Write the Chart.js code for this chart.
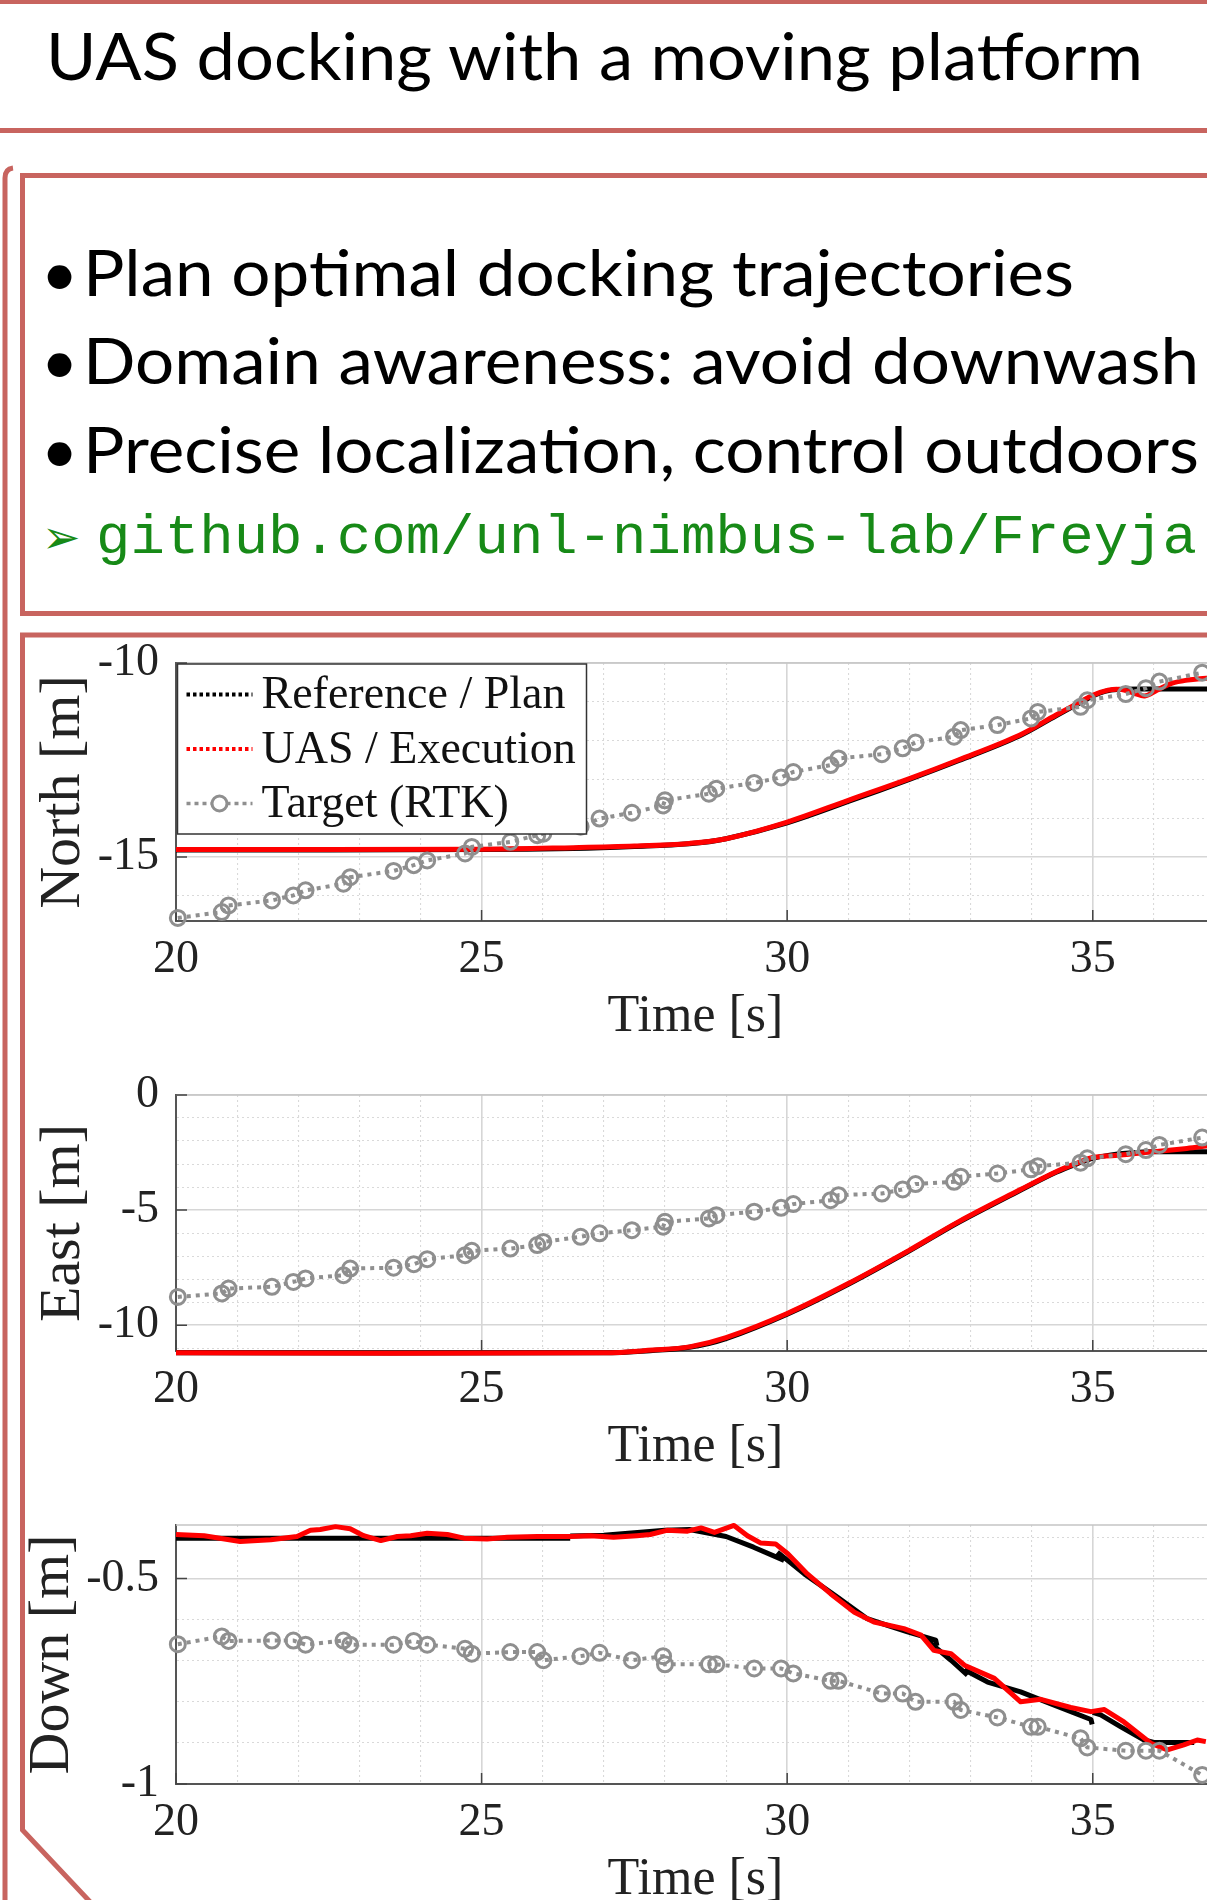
<!DOCTYPE html>
<html>
<head>
<meta charset="utf-8">
<title>UAS docking with a moving platform</title>
<script src="https://cdn.jsdelivr.net/npm/chart.js@4.4.0/dist/chart.umd.min.js"></script>
<style>
  html, body { margin: 0; padding: 0; background: #fff; overflow: hidden; }
  #page { position: relative; width: 1207px; height: 1900px; overflow: hidden; }
  #frame { position: absolute; left: 0; top: 0; }
  .plot { position: absolute; left: 0; }
</style>
</head>
<body>
<div id="page">
  <svg id="frame" width="1207" height="1900">
    <rect x="0" y="0" width="1207" height="4" fill="#c8645f"/>
    <rect x="0" y="128" width="1207" height="5" fill="#c8645f"/>
    <text x="46" y="80" font-family="Lato" font-size="65" textLength="1097" lengthAdjust="spacingAndGlyphs">UAS docking with a moving platform</text>
    <path d="M5 1900 V178 Q5 169 13 168" fill="none" stroke="#c8645f" stroke-width="5"/>
    <rect x="22.5" y="175.5" width="1300" height="438" fill="none" stroke="#c8645f" stroke-width="5"/>
    <path d="M1300 635 H22.5 V1830 L94 1906" fill="none" stroke="#c8645f" stroke-width="5"/>
    <g font-family="Lato" font-size="64" fill="#000">
      <text x="41" y="296">•</text>
      <text x="83" y="296" textLength="991" lengthAdjust="spacingAndGlyphs">Plan optimal docking trajectories</text>
      <text x="41" y="384">•</text>
      <text x="83" y="384" textLength="1116" lengthAdjust="spacingAndGlyphs">Domain awareness: avoid downwash</text>
      <text x="41" y="473">•</text>
      <text x="83" y="473" textLength="1116" lengthAdjust="spacingAndGlyphs">Precise localization, control outdoors</text>
    </g>
    <text x="42" y="553" font-family="DejaVu Sans" font-size="46" fill="#178a17">➢</text>
    <text x="96" y="553" font-family="Liberation Mono" font-size="56" fill="#178a17" textLength="1101" lengthAdjust="spacingAndGlyphs">github.com/unl-nimbus-lab/Freyja</text>
  </svg>
  <canvas id="northChart" class="plot" width="1230" height="420" style="top:640px"></canvas>
  <canvas id="eastChart" class="plot" width="1230" height="418" style="top:1072px"></canvas>
  <canvas id="downChart" class="plot" width="1230" height="421" style="top:1502px"></canvas>
</div>
<script>
// legend names and tick labels
const seriesNames = ["Reference / Plan", "UAS / Execution", "Target (RTK)"];
const timeTicks = [20, 25, 30, 35];
const northTicks = [-10, -15];
const eastTicks = [0, -5, -10];
const downTicks = [-0.5, -1];

// RTK target samples (same timestamps on all three axes)
const targetTime = [20.03, 20.75, 20.86, 21.57, 21.92, 22.12, 22.74, 22.85, 23.56, 23.89, 24.11, 24.73, 24.84, 25.47, 25.91, 26.01, 26.62, 26.93, 27.46, 27.97, 28.0, 28.72, 28.84, 29.46, 29.9, 30.1, 30.71, 30.84, 31.55, 31.89, 32.1, 32.73, 32.84, 33.44, 33.99, 34.1, 34.8, 34.91, 35.54, 35.87, 36.09, 36.79];
const northTarget = [-16.57, -16.42, -16.25, -16.12, -15.99, -15.86, -15.69, -15.52, -15.36, -15.21, -15.09, -14.91, -14.74, -14.61, -14.44, -14.40, -14.22, -14.01, -13.86, -13.67, -13.54, -13.37, -13.24, -13.09, -12.95, -12.81, -12.63, -12.46, -12.35, -12.20, -12.05, -11.90, -11.73, -11.60, -11.43, -11.26, -11.13, -10.96, -10.80, -10.65, -10.48, -10.25];
const eastTarget = [-8.77, -8.62, -8.41, -8.33, -8.12, -7.97, -7.83, -7.54, -7.50, -7.35, -7.13, -6.96, -6.77, -6.67, -6.52, -6.38, -6.16, -6.01, -5.87, -5.72, -5.51, -5.36, -5.22, -5.07, -4.90, -4.74, -4.57, -4.35, -4.28, -4.10, -3.87, -3.77, -3.55, -3.41, -3.23, -3.09, -2.94, -2.75, -2.57, -2.39, -2.17, -1.85];
const downTarget = [-0.660, -0.641, -0.652, -0.651, -0.651, -0.661, -0.651, -0.661, -0.661, -0.652, -0.661, -0.671, -0.683, -0.679, -0.679, -0.699, -0.689, -0.681, -0.699, -0.689, -0.709, -0.709, -0.709, -0.719, -0.719, -0.731, -0.749, -0.749, -0.780, -0.780, -0.800, -0.800, -0.820, -0.838, -0.861, -0.861, -0.889, -0.911, -0.919, -0.919, -0.919, -0.978];

// North
const northPlanTime = [20, 25, 26.5, 27.5, 28.4, 29.0, 30.0, 31.0, 32.0, 32.8, 33.8, 34.4, 34.8, 35.0, 35.2, 35.4, 36, 37];
const northPlan = [-14.82, -14.81, -14.78, -14.73, -14.66, -14.53, -14.12, -13.57, -13.0, -12.52, -11.88, -11.36, -11.02, -10.85, -10.73, -10.68, -10.67, -10.67];
const northUasTime = [20, 25, 26.5, 27.5, 28.4, 29.0, 30.0, 31.0, 32.0, 32.8, 33.8, 34.4, 34.8, 35.0, 35.25, 35.45, 35.68, 35.85, 36.05, 36.3, 36.55, 36.8, 37];
const northUas = [-14.81, -14.80, -14.76, -14.72, -14.65, -14.53, -14.10, -13.54, -12.98, -12.50, -11.86, -11.34, -11.0, -10.83, -10.70, -10.68, -10.78, -10.85, -10.70, -10.52, -10.44, -10.40, -10.38];

// East
const eastPlanTime = [20, 27, 27.8, 28.4, 29.0, 30.0, 31.0, 32.0, 32.8, 33.8, 34.4, 34.8, 35.0, 35.3, 35.6, 36, 37];
const eastPlan = [-11.2, -11.2, -11.1, -10.96, -10.58, -9.52, -8.22, -6.77, -5.54, -4.16, -3.36, -2.93, -2.75, -2.6, -2.52, -2.47, -2.47];
const eastUasTime = [20, 27, 27.8, 28.4, 29.0, 30.0, 31.0, 32.0, 32.8, 33.8, 34.4, 34.8, 35.0, 35.5, 36.0, 36.5, 36.85, 37];
const eastUas = [-11.2, -11.2, -11.08, -10.94, -10.54, -9.49, -8.19, -6.74, -5.51, -4.13, -3.33, -2.90, -2.71, -2.60, -2.46, -2.33, -2.22, -2.18];

// Down (plan is re-planned in pieces, null = break)
const downPlanTime = [20, 23, 26.45, 26.45, 26.45, 27.0, 27.5, 28.0, 28.4, 29.0, 29.45, 29.95, 29.95, 29.84, 30.28, 30.82, 31.31, 31.64, 31.97, 32.43, 32.45, 32.45, 32.3, 32.68, 32.95, 32.95, 32.9, 33.28, 33.82, 34.37, 34.97, 34.99, 34.99, 35.0, 35.13, 35.46, 35.84, 36.0, 36.66];
const downPlan = [-0.402, -0.402, -0.402, null, -0.397, -0.395, -0.389, -0.383, -0.381, -0.398, -0.424, -0.456, null, -0.436, -0.489, -0.545, -0.598, -0.614, -0.630, -0.650, -0.664, null, -0.652, -0.699, -0.735, null, -0.722, -0.752, -0.776, -0.808, -0.843, -0.855, null, -0.826, -0.832, -0.861, -0.893, -0.899, -0.899];
const downUasTime = [20, 20.46, 21.05, 21.55, 21.98, 22.2, 22.36, 22.61, 22.85, 23.07, 23.35, 23.62, 23.84, 24.11, 24.44, 24.71, 25.09, 25.42, 25.91, 26.45, 26.78, 27.16, 27.54, 27.76, 28.03, 28.37, 28.59, 28.81, 29.13, 29.35, 29.57, 29.81, 30.01, 30.33, 30.71, 31.1, 31.42, 31.91, 32.19, 32.4, 32.68, 32.9, 33.39, 33.82, 34.15, 34.64, 34.97, 35.19, 35.51, 35.95, 36.22, 36.49, 36.71, 36.85];
const downUas = [-0.393, -0.396, -0.410, -0.406, -0.398, -0.383, -0.381, -0.374, -0.379, -0.396, -0.408, -0.398, -0.396, -0.390, -0.393, -0.402, -0.404, -0.400, -0.398, -0.398, -0.396, -0.400, -0.396, -0.393, -0.383, -0.385, -0.377, -0.388, -0.371, -0.396, -0.414, -0.416, -0.440, -0.489, -0.537, -0.582, -0.606, -0.622, -0.638, -0.675, -0.683, -0.711, -0.743, -0.800, -0.794, -0.814, -0.824, -0.819, -0.849, -0.901, -0.917, -0.905, -0.893, -0.897];

Chart.defaults.font.family = "'Liberation Serif', 'Times New Roman', serif";
Chart.defaults.color = "#222";

function pts(xs, ys) {
    return xs.map((x, i) => ({ x: x, y: ys[i] }));
}

function isMajor(list, v) {
    return list.some(t => Math.abs(t - v) < 1e-6);
}

// no extra room for edge labels, the plot box is placed by hand
function noEdgePadding(s) {
    s.paddingTop = 0;
    s.paddingBottom = 0;
    s.paddingLeft = 0;
    s.paddingRight = 0;
}

// white box legend in the upper left of the plot
const legendBox = {
    id: "legendBox",
    afterDatasetsDraw(chart) {
        const ctx = chart.ctx;
        const a = chart.chartArea;
        const left = a.left + 1.5, top = a.top + 1, w = 409, h = 170;
        ctx.save();
        ctx.fillStyle = "#fff";
        ctx.fillRect(left, top, w, h);
        ctx.strokeStyle = "#333";
        ctx.lineWidth = 1.5;
        ctx.strokeRect(left, top, w, h);
        chart.data.datasets.forEach((ds, i) => {
            const cy = top + 30.5 + i * 54.5;
            ctx.strokeStyle = ds.borderColor;
            ctx.lineWidth = i === 2 ? 3.5 : 4;
            ctx.setLineDash(i === 2 ? [4, 4] : [3.5, 3]);
            ctx.beginPath();
            ctx.moveTo(left + 9, cy);
            ctx.lineTo(left + 75, cy);
            ctx.stroke();
            ctx.setLineDash([]);
            if (i === 2) {
                ctx.fillStyle = "#fff";
                ctx.lineWidth = 3;
                ctx.beginPath();
                ctx.arc(left + 42, cy, 7.5, 0, Math.PI * 2);
                ctx.fill();
                ctx.stroke();
            }
            ctx.fillStyle = "#111";
            ctx.font = "46px 'Liberation Serif', serif";
            ctx.textBaseline = "alphabetic";
            ctx.fillText(ds.label, left + 84, cy + 13.7);
        });
        ctx.restore();
    }
};

function makeChart(id, cfg) {
    const yMajor = cfg.yTicks;

    // light top frame and short inward tick marks
    const frameTicks = {
        id: "frameTicks",
        beforeDatasetsDraw(chart) {
            const ctx = chart.ctx;
            const a = chart.chartArea;
            const sx = chart.scales.x, sy = chart.scales.y;
            ctx.save();
            ctx.strokeStyle = "#c4c4c4";
            ctx.lineWidth = 1.5;
            ctx.beginPath();
            ctx.moveTo(a.left, a.top);
            ctx.lineTo(a.right, a.top);
            ctx.stroke();
            ctx.strokeStyle = "#444";
            ctx.beginPath();
            timeTicks.forEach(v => {
                const px = sx.getPixelForValue(v);
                ctx.moveTo(px, a.bottom);
                ctx.lineTo(px, a.bottom - 11);
            });
            yMajor.forEach(v => {
                const py = sy.getPixelForValue(v);
                ctx.moveTo(a.left, py);
                ctx.lineTo(a.left + 11, py);
            });
            ctx.stroke();
            ctx.restore();
        }
    };

    const gridOpts = list => ({
        drawTicks: false,
        color: c => (c.tick && isMajor(list, c.tick.value)) ? "#d6d6d6" : "#d9d9d9",
        lineWidth: c => (c.tick && isMajor(list, c.tick.value)) ? 1.6 : 1.1
    });
    const borderOpts = list => ({
        color: "#555",
        width: 2,
        dash: c => (c.tick && !isMajor(list, c.tick.value)) ? [2, 3] : []
    });

    return new Chart(document.getElementById(id), {
        type: "line",
        data: {
            datasets: [
                {
                    label: seriesNames[0],
                    data: pts(cfg.planTime, cfg.plan),
                    borderColor: "#000",
                    borderWidth: 5,
                    pointRadius: 0,
                    tension: cfg.tension,
                    borderJoinStyle: "round",
                    clip: 6,
                    order: 2
                },
                {
                    label: seriesNames[1],
                    data: pts(cfg.uasTime, cfg.uas),
                    borderColor: "#ff0000",
                    borderWidth: 5,
                    pointRadius: 0,
                    tension: cfg.tension,
                    borderJoinStyle: "round",
                    clip: 6,
                    order: 1
                },
                {
                    label: seriesNames[2],
                    data: pts(targetTime, cfg.target),
                    borderColor: "#8f8f8f",
                    borderWidth: 4,
                    borderDash: [4, 5],
                    pointRadius: 7.5,
                    pointBorderWidth: 3,
                    pointBorderColor: "#8f8f8f",
                    pointBackgroundColor: "rgba(255,255,255,0)",
                    tension: 0,
                    clip: 10,
                    order: 0
                }
            ]
        },
        options: {
            responsive: false,
            animation: false,
            events: [],
            layout: { padding: { top: 23, right: 15, left: 0, bottom: 0 } },
            plugins: {
                legend: { display: false },
                tooltip: { enabled: false }
            },
            scales: {
                x: {
                    type: "linear",
                    min: 20,
                    max: 37,
                    afterFit: s => { s.height = 139; noEdgePadding(s); },
                    ticks: {
                        stepSize: 1,
                        autoSkip: false,
                        maxRotation: 0,
                        padding: 11,
                        font: { size: 46 },
                        callback: v => isMajor(timeTicks, v) ? String(v) : ""
                    },
                    grid: gridOpts(timeTicks),
                    border: borderOpts(timeTicks),
                    title: {
                        display: true,
                        text: "Time [s]",
                        font: { size: 52 },
                        padding: { top: 0, bottom: 11 }
                    }
                },
                y: {
                    type: "linear",
                    min: cfg.yMin,
                    max: cfg.yMax,
                    afterFit: s => { s.width = 176; noEdgePadding(s); },
                    ticks: {
                        stepSize: cfg.yStep,
                        autoSkip: false,
                        includeBounds: false,
                        padding: 17,
                        font: { size: 46 },
                        callback: v => isMajor(yMajor, v) ? String(+v.toFixed(2)) : ""
                    },
                    grid: gridOpts(yMajor),
                    border: borderOpts(yMajor),
                    title: {
                        display: true,
                        text: cfg.yTitle,
                        font: { size: 58 },
                        padding: { top: cfg.titlePad, bottom: 0 }
                    }
                }
            }
        },
        plugins: cfg.legend ? [frameTicks, legendBox] : [frameTicks]
    });
}

makeChart("northChart", {
    planTime: northPlanTime, plan: northPlan,
    uasTime: northUasTime, uas: northUas,
    target: northTarget,
    yMin: -16.65, yMax: -10, yStep: 1, yTicks: northTicks,
    yTitle: "North [m]", titlePad: 29, tension: 0.35, legend: true
});

makeChart("eastChart", {
    planTime: eastPlanTime, plan: eastPlan,
    uasTime: eastUasTime, uas: eastUas,
    target: eastTarget,
    yMin: -11.12, yMax: 0, yStep: 1, yTicks: eastTicks,
    yTitle: "East [m]", titlePad: 29, tension: 0.35, legend: false
});

makeChart("downChart", {
    planTime: downPlanTime, plan: downPlan,
    uasTime: downUasTime, uas: downUas,
    target: downTarget,
    yMin: -1, yMax: -0.37, yStep: 0.1, yTicks: downTicks,
    yTitle: "Down [m]", titlePad: 18, tension: 0, legend: false
});
</script>
</body>
</html>
